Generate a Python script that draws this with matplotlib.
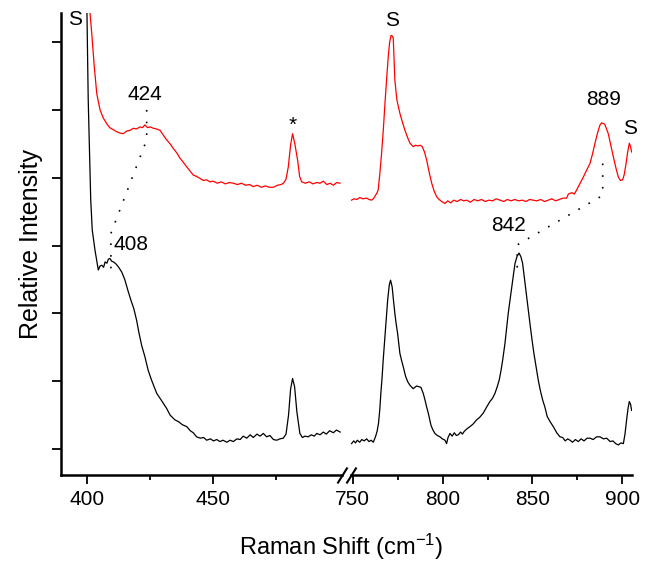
import matplotlib
matplotlib.use("Agg")
import matplotlib.pyplot as plt
import numpy as np

plt.rcParams['font.family'] = ['Liberation Sans', 'DejaVu Sans']
plt.rcParams['mathtext.fontset'] = 'custom'
plt.rcParams['mathtext.rm'] = 'Liberation Sans'
plt.rcParams['mathtext.it'] = 'Liberation Sans'

# ---- black spectrum (lower trace), low-frequency window ----
black_lo_x = [399.0, 400.0, 400.5, 401.5, 402.1, 403.2, 404.5, 405.2, 405.9, 406.6, 407.2, 407.9,
              408.5, 409.1, 409.8, 410.5, 411.5, 412.6, 413.8, 415.0, 416.4, 417.4, 418.6, 419.7,
              420.6, 421.7, 423.0, 424.3, 425.8, 427.7, 429.5, 431.6, 433.0, 434.9, 436.5, 437.8,
              439.6, 441.0, 442.2, 443.5, 445.0, 446.3, 447.5, 449.0, 450.2, 451.5, 452.8, 454.0,
              455.5, 456.8, 458.1, 459.5, 460.8, 462.0, 463.4, 464.8, 466.0, 467.5, 468.7, 470.0,
              471.3, 472.6, 474.0, 475.3, 476.6, 477.9, 479.0, 480.0, 480.8, 481.6, 482.4, 483.3,
              484.5, 485.5, 486.5, 487.8, 489.0, 490.2, 491.2, 492.5, 493.8, 495.0, 496.3, 497.8,
              499.0, 500.5]
black_lo_y = [7.50, 6.43, 5.15, 3.67, 3.23, 2.93, 2.64, 2.70, 2.71, 2.68, 2.76, 2.74,
              2.80, 2.81, 2.77, 2.76, 2.73, 2.68, 2.61, 2.50, 2.32, 2.20, 2.07, 1.90,
              1.72, 1.53, 1.36, 1.16, 1.00, 0.82, 0.72, 0.60, 0.50, 0.43, 0.40, 0.36,
              0.33, 0.27, 0.24, 0.18, 0.16, 0.17, 0.13, 0.15, 0.12, 0.14, 0.11, 0.13,
              0.10, 0.13, 0.11, 0.15, 0.14, 0.19, 0.16, 0.21, 0.17, 0.22, 0.19, 0.23,
              0.18, 0.20, 0.14, 0.13, 0.15, 0.16, 0.22, 0.50, 0.88, 1.04, 0.92, 0.55,
              0.23, 0.17, 0.19, 0.18, 0.21, 0.19, 0.23, 0.21, 0.25, 0.22, 0.27, 0.24,
              0.28, 0.25]

# ---- black spectrum, high-frequency window ----
black_hi_x = [749.3, 750.5, 751.5, 752.5, 753.8, 755.0, 756.3, 757.7, 759.0, 760.2, 761.4, 762.6,
              763.5, 764.3, 765.0, 765.6, 766.3, 766.9, 767.6, 768.3, 769.4, 770.3, 771.0, 771.9,
              772.6, 773.4, 774.1, 774.9, 776.2, 777.1, 778.1, 779.4, 780.6, 781.8, 783.6, 785.5,
              786.7, 787.9, 789.2, 790.2, 791.1, 792.0, 793.5, 794.6, 795.7, 797.0, 798.5, 799.8,
              801.3, 802.2, 803.0, 804.1, 805.3, 806.5, 807.6, 808.7, 810.0, 811.0, 812.0, 813.6,
              815.2, 817.0, 818.9, 820.7, 822.6, 824.5, 826.3, 827.8, 829.1, 830.4, 831.5, 832.5,
              833.4, 834.7, 835.6, 836.5, 837.5, 838.4, 839.4, 840.3, 841.4, 842.5, 843.5, 844.5,
              845.6, 846.8, 847.7, 848.6, 849.7, 850.8, 852.0, 853.2, 854.4, 855.7, 856.9, 858.2,
              859.9, 861.6, 863.5, 865.3, 866.8, 868.2, 869.6, 870.9, 872.3, 873.9, 875.5, 877.1,
              878.7, 880.4, 882.0, 883.8, 885.7, 887.6, 889.5, 891.3, 893.2, 894.8, 896.3, 897.8,
              899.2, 900.6, 901.5, 902.4, 903.2, 903.9, 904.6, 905.2]
black_hi_y = [0.08, 0.12, 0.09, 0.13, 0.10, 0.14, 0.12, 0.15, 0.11, 0.13, 0.10, 0.18,
              0.26, 0.38, 0.58, 0.82, 1.06, 1.31, 1.56, 1.80, 2.20, 2.42, 2.49, 2.39,
              2.20, 2.00, 1.85, 1.71, 1.41, 1.31, 1.21, 1.07, 0.99, 0.94, 0.89, 0.93,
              0.92, 0.91, 0.82, 0.72, 0.62, 0.53, 0.35, 0.28, 0.23, 0.20, 0.18, 0.15,
              0.13, 0.08, 0.17, 0.23, 0.19, 0.24, 0.20, 0.21, 0.25, 0.22, 0.26, 0.30,
              0.33, 0.37, 0.43, 0.47, 0.53, 0.62, 0.70, 0.75, 0.82, 0.92, 1.02, 1.16,
              1.31, 1.56, 1.78, 2.00, 2.20, 2.39, 2.57, 2.74, 2.84, 2.89, 2.84, 2.74,
              2.50, 2.25, 2.05, 1.85, 1.62, 1.41, 1.21, 1.02, 0.86, 0.72, 0.62, 0.48,
              0.40, 0.33, 0.24, 0.18, 0.17, 0.12, 0.15, 0.13, 0.10, 0.14, 0.11, 0.15,
              0.12, 0.16, 0.16, 0.14, 0.18, 0.18, 0.15, 0.16, 0.11, 0.12, 0.08, 0.06,
              0.09, 0.08, 0.22, 0.43, 0.60, 0.70, 0.66, 0.57]

# ---- red spectrum (upper trace), low-frequency window ----
red_lo_x = [401.0, 401.2, 401.9, 402.9, 403.9, 405.2, 406.5, 407.8, 409.0, 410.4, 411.8, 413.0,
            414.4, 415.8, 417.1, 418.4, 419.7, 421.0, 422.0, 423.0, 424.0, 425.2, 426.3, 427.6,
            429.0, 430.3, 431.6, 433.0, 434.3, 435.6, 436.9, 438.2, 439.6, 440.9, 442.2, 443.5,
            444.9, 446.2, 447.5, 448.8, 450.1, 451.7, 453.3, 454.9, 456.5, 458.1, 459.7, 461.3,
            462.9, 464.5, 466.0, 467.6, 469.2, 470.8, 472.4, 474.0, 475.6, 477.0, 478.0, 479.0,
            479.9, 480.8, 481.6, 482.5, 483.6, 484.4, 485.2, 486.7, 488.2, 489.7, 491.2, 492.5,
            493.8, 495.2, 496.5, 497.8, 499.1, 500.4]
red_lo_y = [7.50, 6.43, 6.13, 5.64, 5.24, 5.00, 4.88, 4.80, 4.74, 4.71, 4.68, 4.66,
            4.65, 4.69, 4.70, 4.73, 4.72, 4.75, 4.74, 4.78, 4.74, 4.75, 4.73, 4.72,
            4.70, 4.63, 4.56, 4.50, 4.43, 4.37, 4.29, 4.23, 4.16, 4.10, 4.04, 4.02,
            3.99, 3.96, 3.97, 3.94, 3.95, 3.92, 3.94, 3.91, 3.93, 3.92, 3.90, 3.92,
            3.89, 3.90, 3.87, 3.89, 3.86, 3.88, 3.86, 3.86, 3.89, 3.90, 3.92, 3.98,
            4.16, 4.48, 4.65, 4.50, 4.26, 4.02, 3.94, 3.92, 3.94, 3.91, 3.93, 3.92,
            3.95, 3.90, 3.92, 3.89, 3.93, 3.92]

# ---- red spectrum, high-frequency window ----
red_hi_x = [749.3, 750.6, 752.3, 753.9, 755.5, 757.7, 759.0, 760.5, 761.7, 762.6, 763.5, 764.1,
            765.0, 766.0, 767.0, 767.9, 768.8, 769.7, 770.5, 771.3, 772.0, 772.5, 773.4, 774.5,
            776.2, 777.6, 779.0, 780.4, 781.8, 783.6, 784.9, 786.2, 787.5, 788.6, 789.9, 791.1,
            792.5, 793.9, 795.3, 796.7, 798.0, 799.5, 801.3, 802.8, 804.5, 806.2, 808.0, 810.0,
            811.7, 813.4, 815.5, 817.5, 819.5, 821.6, 823.7, 825.7, 827.8, 829.8, 831.9, 834.0,
            836.0, 838.1, 840.1, 842.2, 844.3, 846.3, 848.4, 850.4, 852.5, 854.6, 856.7, 858.8,
            860.8, 862.9, 865.0, 867.0, 869.0, 870.0, 870.8, 872.0, 873.3, 874.6, 876.5, 878.3,
            880.1, 882.0, 883.4, 884.8, 886.2, 887.6, 888.5, 889.4, 890.2, 891.2, 892.2, 893.6,
            895.0, 896.4, 897.8, 899.0, 900.2, 901.1, 902.1, 903.0, 903.9, 904.6, 905.2]
red_hi_y = [3.67, 3.69, 3.68, 3.71, 3.69, 3.70, 3.68, 3.67, 3.70, 3.74, 3.78, 3.82,
            4.05, 4.36, 4.72, 5.10, 5.45, 5.78, 6.00, 6.10, 6.09, 6.06, 5.44, 5.15,
            4.95, 4.82, 4.70, 4.60, 4.51, 4.46, 4.48, 4.47, 4.48, 4.46, 4.38, 4.26,
            4.08, 3.92, 3.80, 3.72, 3.68, 3.65, 3.62, 3.66, 3.63, 3.67, 3.65, 3.68,
            3.66, 3.67, 3.64, 3.68, 3.66, 3.68, 3.65, 3.67, 3.66, 3.69, 3.67, 3.65,
            3.68, 3.66, 3.68, 3.66, 3.67, 3.65, 3.68, 3.67, 3.66, 3.68, 3.65, 3.67,
            3.69, 3.66, 3.68, 3.70, 3.70, 3.76, 3.77, 3.78, 3.76, 3.82, 3.92, 4.01,
            4.11, 4.21, 4.35, 4.51, 4.66, 4.78, 4.81, 4.80, 4.79, 4.72, 4.65, 4.48,
            4.31, 4.15, 4.01, 3.96, 3.97, 4.05, 4.21, 4.38, 4.51, 4.46, 4.38]

# dotted guide lines linking shifted peaks
guide_lo_x = [423.7, 423.7, 409.5, 409.5]
guide_lo_y = [5.00, 4.56, 3.18, 2.64]
guide_hi_x = [889.1, 889.1, 841.5, 841.5]
guide_hi_y = [4.21, 3.74, 3.01, 2.59]

# peak labels: (x, y, text)
labels_lo = [(395.3, 6.33, 'S'), (423.0, 5.23, '424'), (417.3, 3.01, '408'), (481.6, 4.78, '*')]
labels_hi = [(771.6, 6.32, 'S'), (889.4, 5.15, '889'), (904.3, 4.73, 'S'), (836.5, 3.30, '842')]

fig = plt.figure(figsize=(6.48, 5.71), dpi=100)
ax1 = fig.add_axes([61/648, 1-475/571, 285/648, 462/571])
ax2 = fig.add_axes([346/648, 1-475/571, 286/648, 462/571])

ax1.set_xlim(389.7, 502.8)
ax2.set_xlim(746.2, 905.4)
for ax in (ax1, ax2):
    ax.set_ylim(-0.383, 6.43)
    ax.set_facecolor('none')
    ax.spines['top'].set_visible(False)
    ax.spines['right'].set_visible(False)
    ax.spines['bottom'].set_linewidth(1.8)
    ax.tick_params(axis='x', which='major', direction='out', length=6.5, width=1.3,
                   labelsize=15, pad=4)
    ax.tick_params(axis='x', which='minor', direction='out', length=3.3, width=1.3)

ax1.plot(black_lo_x, black_lo_y, color='black', lw=0.9)
ax1.plot(red_lo_x, red_lo_y, color='red', lw=0.9)
ax2.plot(black_hi_x, black_hi_y, color='black', lw=0.9)
ax2.plot(red_hi_x, red_hi_y, color='red', lw=0.9)

ax1.plot(guide_lo_x, guide_lo_y, color='black', lw=1.2, ls=(0, (1, 6)))
ax2.plot(guide_hi_x, guide_hi_y, color='black', lw=1.2, ls=(0, (1, 6)))

for x, y, s in labels_lo:
    ax1.text(x, y, s, ha='center', va='center', fontsize=15)
for x, y, s in labels_hi:
    ax2.text(x, y, s, ha='center', va='center', fontsize=15)

# x ticks
ax1.set_xticks([400, 450])
ax1.set_xticks([425, 475], minor=True)
ax2.set_xticks([750, 800, 850, 900])
ax2.set_xticks([775, 825, 875], minor=True)

# y axis: ticks without labels on the left panel only
ax1.spines['left'].set_linewidth(1.8)
ax1.set_yticks(np.arange(0, 7))
ax1.set_yticklabels([])
ax1.tick_params(axis='y', direction='out', length=6.7, width=1.3)
ax1.set_ylabel('Relative Intensity', fontsize=18, labelpad=3)
ax2.spines['left'].set_visible(False)
ax2.set_yticks([])

# broken x axis
lo_end, hi_start = 501.1, 749.1
ax1.spines['bottom'].set_bounds(389.7, lo_end)
ax2.spines['bottom'].set_bounds(hi_start, 905.4)
slash = [(-0.625, -1), (0.625, 1)]
ax1.plot([lo_end], [0], transform=ax1.get_xaxis_transform(), marker=slash,
         markersize=11.5, mew=1.5, color='black', ls='none', clip_on=False)
ax2.plot([hi_start], [0], transform=ax2.get_xaxis_transform(), marker=slash,
         markersize=11.5, mew=1.5, color='black', ls='none', clip_on=False)

fig.text(341/648, 1-547/571, 'Raman Shift (cm$^{-1}$)', ha='center', va='center', fontsize=17)

fig.savefig('out.png', dpi=100)
